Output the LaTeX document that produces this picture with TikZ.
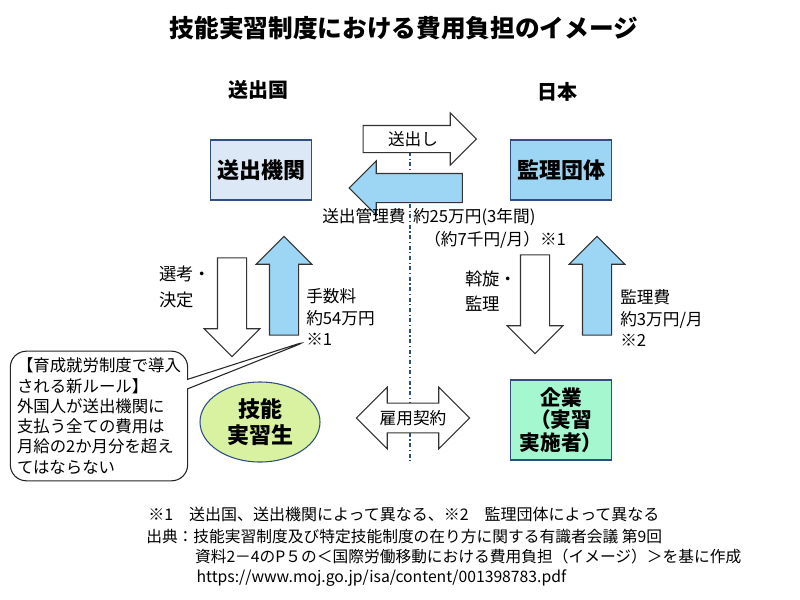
\documentclass[tikz,border=0pt]{standalone}
\usepackage{fontspec}
\setmainfont{Noto Sans CJK JP}
\usetikzlibrary{shapes.geometric,shapes.arrows,shapes.callouts}
\definecolor{edgeBlue}{HTML}{2F4F7F}
\definecolor{paleBlue}{HTML}{DCE8F5}
\definecolor{skyBlue}{HTML}{9DD6F4}
\definecolor{limeFill}{HTML}{D8F2A2}
\definecolor{mintFill}{HTML}{A4F7CF}
\begin{document}
\begin{tikzpicture}
		[x=0.75pt,y=-0.75pt,
		boxDecorate/.style={draw=edgeBlue,thick,minimum width=76pt,minimum height=45pt,font=\fontsize{16.5}{19}\selectfont\bfseries},
		arrowDecorate/.style={shape=single arrow,draw=black!80,thick,inner xsep=0pt,inner ysep=4pt,single arrow head extend=9.5pt,minimum height=85pt,font=\fontsize{12.5}{14}\selectfont},
		vArrowDecorate/.style={shape=single arrow,draw=black!80,thick,inner sep=0pt,inner ysep=10.5pt,single arrow head extend=10pt,minimum height=74pt},
		textDecorate/.style={font=\fontsize{12.5}{16}\selectfont,align=left,inner sep=0pt}]
		\useasboundingbox (0,0) rectangle (800,600);
		%% title and headings
		\node (title) at (404,28) {\fontsize{18.5}{22}\selectfont\bfseries 技能実習制度における費用負担のイメージ};
		\node (sender) at (258,90) {\fontsize{15}{18}\selectfont\bfseries 送出国};
		\node (japan) at (557,92) {\fontsize{15}{18}\selectfont\bfseries 日本};
		%% boxes
		\node (agency) at (261,170) [boxDecorate,fill=paleBlue] {送出機関};
		\node (union) at (561,170) [boxDecorate,fill=skyBlue] {監理団体};
		\node (company) at (561,420) [boxDecorate,fill=mintFill,minimum height=60pt,align=center,font=\fontsize{15.5}{17}\selectfont\bfseries] {企業\\（実習\\実施者）};
		\node (trainee) [ellipse,draw=edgeBlue,thick,fill=limeFill,minimum width=90pt,minimum height=60pt,inner sep=0pt,align=center,font=\fontsize{16.5}{19}\selectfont\bfseries] at (260,422) {技能\\実習生};
		%% border line
		\coordinate (lineTop) at (410,152);
		\coordinate (lineEnd) at (410,462);
		\draw[edgeBlue,thick,dash dot] (lineTop) -- (lineEnd);
		%% horizontal arrows
		\node (send) at (413,139) [arrowDecorate,fill=white] {送出し\hspace{14pt}};
		\node (fee) at (413,188) [arrowDecorate,fill=skyBlue,shape border rotate=180,inner ysep=10.5pt] {};
		\node (contract) at (413,418) [arrowDecorate,shape=double arrow,double arrow head extend=12pt,inner ysep=5pt,fill=white] {雇用契約};
		%% vertical arrows
		\node (select) at (232,300) [vArrowDecorate,fill=white,rotate=-90] {};
		\node (commission) at (284,293) [vArrowDecorate,fill=skyBlue,rotate=90] {};
		\node (mediate) at (535,297) [vArrowDecorate,fill=white,rotate=-90] {};
		\node (supervise) at (597,293) [vArrowDecorate,fill=skyBlue,rotate=90] {};
		%% labels
		\node (feeText) at (322,217) [textDecorate,anchor=west] {送出管理費\ \ 約25万円(3年間)};
		\node (feeMonth) at (424,240) [textDecorate,anchor=west] {（約7千円/月）※1};
		\node (selectText) at (159,287) [textDecorate,anchor=west,font=\fontsize{13}{19}\selectfont] {選考・\\決定};
		\node (commText) at (306,317) [textDecorate,anchor=west] {手数料\\約54万円\\※1};
		\node (mediateText) at (465,291) [textDecorate,anchor=west,font=\fontsize{13}{19}\selectfont] {斡旋・\\監理};
		\node (superText) at (620,318) [textDecorate,anchor=west] {監理費\\約3万円/月\\※2};
		%% callout
		\node (rule) at (99,416) [rectangle callout,draw=black!85,thick,fill=white,rounded corners=12pt,inner sep=5pt,
			callout absolute pointer={(310,340)},textDecorate,inner sep=5pt,font=\fontsize{12.3}{15.2}\selectfont] {【育成就労制度で導入\\される新ルール】\\外国人が送出機関に\\支払う全ての費用は\\月給の2か月分を超え\\てはならない};
		%% notes
		\node (note) at (148,514) [textDecorate,anchor=west,font=\fontsize{12}{15}\selectfont] {※1\quad 送出国、送出機関によって異なる、※2\quad 監理団体によって異なる};
		\node (source) at (146,558) [textDecorate,anchor=west,font=\fontsize{11.8}{15}\selectfont] {出典：技能実習制度及び特定技能制度の在り方に関する有識者会議 第9回\\\hspace{3.1em}資料2－4のP５の＜国際労働移動における費用負担（イメージ）＞を基に作成\\\hspace{3.2em}https://www.moj.go.jp/isa/content/001398783.pdf};
	\end{tikzpicture}
\end{document}
